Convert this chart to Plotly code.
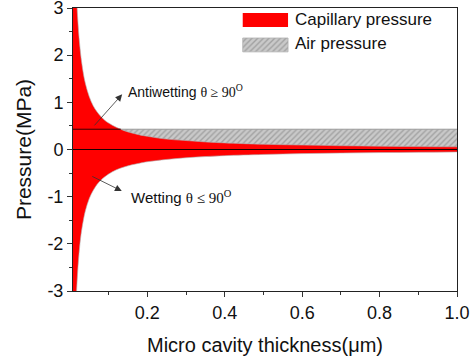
import numpy as np
import plotly.graph_objects as go

# ---- data ----
x_um = [0.008, 0.012, 0.016, 0.02, 0.025, 0.03, 0.035, 0.04, 0.05, 0.06, 0.07, 0.08,
        0.09, 0.10, 0.12, 0.14, 0.16, 0.18, 0.20, 0.25, 0.30, 0.35, 0.40, 0.50,
        0.60, 0.70, 0.80, 0.90, 1.00]
cap_upper = [7.0, 4.7, 3.5, 2.8, 2.25, 1.87, 1.6, 1.4, 1.12, 0.93, 0.8, 0.7,
             0.62, 0.56, 0.47, 0.40, 0.35, 0.31, 0.28, 0.22, 0.19, 0.16, 0.14, 0.11,
             0.094, 0.08, 0.07, 0.062, 0.056]
cap_lower = [-6.5, -4.3, -3.25, -2.6, -2.08, -1.73, -1.49, -1.3, -1.04, -0.87, -0.74, -0.65,
             -0.58, -0.52, -0.43, -0.37, -0.325, -0.29, -0.26, -0.21, -0.175, -0.15, -0.13, -0.105,
             -0.087, -0.075, -0.065, -0.058, -0.052]
air_pressure = 0.43

x_tickvals = [0.2, 0.4, 0.6, 0.8, 1.0]
x_ticktext = ["0.2", "0.4", "0.6", "0.8", "1.0"]
y_tickvals = [-3, -2, -1, 0, 1, 2, 3]
y_ticktext = ["-3", "-2", "-1", "0", "1", "2", "3"]

legend_names = ["Capillary pressure", "Air pressure"]

RED = "#ff0000"
HATCH = dict(shape="/", bgcolor="#c9c9c9", fgcolor="#7a7a7a", size=4, solidity=0.35)
FONT = "Arial, Liberation Sans, sans-serif"
SERIF_SPAN = "<span style='font-family:Liberation Serif, serif'>"

x0, x1 = x_um[0], x_um[-1]

fig = go.Figure()

# air pressure band (0 .. air)
fig.add_trace(go.Scatter(x=[x0, x1], y=[0, 0], mode="lines",
                         line=dict(width=0), showlegend=False, hoverinfo="skip"))
fig.add_trace(go.Scatter(x=[x0, x1], y=[air_pressure, air_pressure], mode="lines",
                         line=dict(color="#9a9a9a", width=1), fill="tonexty",
                         fillcolor="#c9c9c9", fillpattern=HATCH,
                         showlegend=False, hoverinfo="skip"))

# capillary pressure band
fig.add_trace(go.Scatter(x=x_um, y=cap_lower, mode="lines", line_shape="spline",
                         line=dict(color="#b0b0b0", width=0.6),
                         showlegend=False, hoverinfo="skip"))
fig.add_trace(go.Scatter(x=x_um, y=cap_upper, mode="lines", line_shape="spline",
                         line=dict(color="#b0b0b0", width=0.6), fill="tonexty",
                         fillcolor=RED, showlegend=False, hoverinfo="skip"))

# air pressure line drawn over the red region
up_arr = np.array(cap_upper)
x_arr = np.array(x_um)
x_cross = float(np.interp(air_pressure, up_arr[::-1], x_arr[::-1]))
fig.add_trace(go.Scatter(x=[x0, x_cross], y=[air_pressure, air_pressure], mode="lines",
                         line=dict(color="#3a0000", width=1),
                         showlegend=False, hoverinfo="skip"))
# zero line
fig.add_trace(go.Scatter(x=[x0, x1], y=[0, 0], mode="lines",
                         line=dict(color="#1a0000", width=1),
                         showlegend=False, hoverinfo="skip"))

# legend patches on an overlay axis (fractions of the plot area)
fig.add_trace(go.Scatter(x=[0.442, 0.56, 0.56, 0.442, 0.442],
                         y=[0.933, 0.933, 0.982, 0.982, 0.933],
                         xaxis="x2", yaxis="y2", mode="lines", line=dict(width=0),
                         fill="toself", fillcolor=RED, showlegend=False, hoverinfo="skip"))
fig.add_trace(go.Scatter(x=[0.442, 0.56, 0.56, 0.442, 0.442],
                         y=[0.845, 0.845, 0.894, 0.894, 0.845],
                         xaxis="x2", yaxis="y2", mode="lines",
                         line=dict(width=0.8, color="#b0b0b0"),
                         fill="toself", fillcolor="#c9c9c9", fillpattern=HATCH,
                         showlegend=False, hoverinfo="skip"))

annotations = [
    dict(xref="paper", yref="paper", x=0.573, y=0.958, text=legend_names[0],
         showarrow=False, xanchor="left", yanchor="middle",
         font=dict(family=FONT, size=17, color="#111")),
    dict(xref="paper", yref="paper", x=0.573, y=0.873, text=legend_names[1],
         showarrow=False, xanchor="left", yanchor="middle",
         font=dict(family=FONT, size=17, color="#111")),
    # arrows
    dict(x=0.135, y=1.17, ax=0.060, ay=0.48, xref="x", yref="y", axref="x", ayref="y",
         text="", showarrow=True, arrowhead=2, arrowsize=1.7, arrowwidth=0.8,
         arrowcolor="#333"),
    dict(x=0.134, y=-0.88, ax=0.054, ay=-0.555, xref="x", yref="y", axref="x", ayref="y",
         text="", showarrow=True, arrowhead=2, arrowsize=1.7, arrowwidth=0.8,
         arrowcolor="#333"),
    # labels
    dict(x=0.144, y=1.25, xref="x", yref="y", showarrow=False, xanchor="left",
         yanchor="middle",
         text="Antiwetting " + SERIF_SPAN + "θ ≥ 90<sup>O</sup></span>",
         font=dict(family=FONT, size=14, color="#111")),
    dict(x=0.153, y=-1.0, xref="x", yref="y", showarrow=False, xanchor="left",
         yanchor="middle",
         text="Wetting " + SERIF_SPAN + "θ ≤ 90<sup>O</sup></span>",
         font=dict(family=FONT, size=15, color="#111")),
]

fig.update_layout(
    width=471, height=363,
    margin=dict(l=73, r=14, t=8, b=72, autoexpand=False),
    paper_bgcolor="white", plot_bgcolor="white",
    showlegend=False,
    font=dict(family=FONT, color="#111"),
    annotations=annotations,
    xaxis=dict(range=[x0, x1], tickvals=x_tickvals, ticktext=x_ticktext,
               ticks="outside", ticklen=5, tickwidth=1, tickcolor="#333",
               minor=dict(dtick=0.1, tick0=0, ticks="outside", ticklen=3, tickcolor="#333"),
               showline=True, linecolor="#222", linewidth=1, mirror=True,
               showgrid=False, zeroline=False, ticklabeloverflow="allow", automargin=False,
               tickfont=dict(size=18, family=FONT, color="#111"),
               title=dict(text="Micro cavity thickness(μm)",
                          font=dict(size=20, family=FONT, color="#111"), standoff=16)),
    yaxis=dict(range=[-3, 3], tickvals=y_tickvals, ticktext=y_ticktext,
               ticks="outside", ticklen=5, tickwidth=1, tickcolor="#333",
               minor=dict(dtick=0.5, tick0=0, ticks="outside", ticklen=3, tickcolor="#333"),
               showline=True, linecolor="#222", linewidth=1, mirror=True,
               showgrid=False, zeroline=False, ticklabeloverflow="allow", automargin=False,
               tickfont=dict(size=18, family=FONT, color="#111"),
               title=dict(text="Pressure(MPa)",
                          font=dict(size=21, family=FONT, color="#111"), standoff=10)),
    xaxis2=dict(range=[0, 1], overlaying="x", visible=False, fixedrange=True),
    yaxis2=dict(range=[0, 1], overlaying="y", visible=False, fixedrange=True),
)

fig.write_html("out.html")
